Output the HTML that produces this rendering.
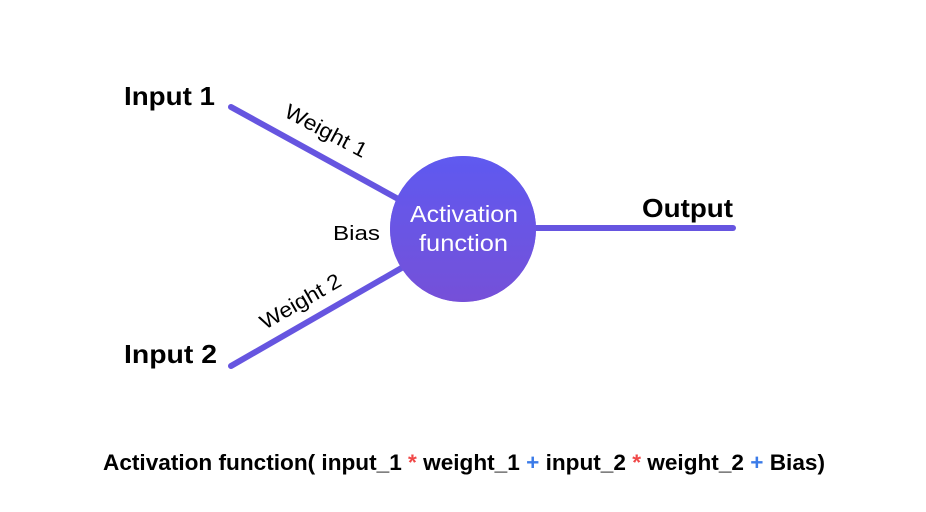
<!DOCTYPE html>
<html><head><style>body{margin:0;background:#fff}</style></head><body>
<svg width="926" height="507" xmlns="http://www.w3.org/2000/svg" font-family="Liberation Sans, sans-serif">
<defs>
<linearGradient id="g" x1="0" y1="0" x2="0" y2="1"><stop offset="0" stop-color="#5f5af0"/><stop offset="1" stop-color="#7550d8"/></linearGradient>
<filter id="s" x="-30%" y="-30%" width="160%" height="160%"><feGaussianBlur in="SourceAlpha" stdDeviation="5"/><feOffset dy="4"/><feComponentTransfer><feFuncA type="linear" slope="0.35"/></feComponentTransfer><feFlood flood-color="#7a55e0"/><feComposite operator="in" in2="SourceAlpha"/><feMerge><feMergeNode/><feMergeNode in="SourceGraphic"/></feMerge></filter>
</defs>
<g stroke="#6655e0" stroke-width="6" stroke-linecap="round">
<line x1="231" y1="107" x2="400" y2="200"/>
<line x1="231" y1="366" x2="405" y2="266"/>
<line x1="530" y1="228" x2="733" y2="228"/>
</g>
<circle cx="463" cy="229" r="73" fill="url(#g)" filter="url(#s)"/>
<text x="410" y="222" fill="#fff" font-size="23" textLength="108" lengthAdjust="spacingAndGlyphs">Activation</text>
<text x="419" y="251" fill="#fff" font-size="23" textLength="89" lengthAdjust="spacingAndGlyphs">function</text>
<text x="124" y="105" font-size="26" font-weight="bold" textLength="91" lengthAdjust="spacingAndGlyphs">Input 1</text>
<text x="124" y="363" font-size="26" font-weight="bold" textLength="93" lengthAdjust="spacingAndGlyphs">Input 2</text>
<text x="642" y="217" font-size="26" font-weight="bold" textLength="91" lengthAdjust="spacingAndGlyphs">Output</text>
<text x="333" y="240" font-size="20" textLength="47" lengthAdjust="spacingAndGlyphs">Bias</text>
<text transform="translate(283,116) rotate(28)" font-size="21" textLength="90" lengthAdjust="spacingAndGlyphs">Weight 1</text>
<text transform="translate(265,330) rotate(-30)" font-size="21" textLength="90" lengthAdjust="spacingAndGlyphs">Weight 2</text>
<text x="103" y="470" font-size="22" font-weight="bold" textLength="722" lengthAdjust="spacingAndGlyphs">Activation function( input_1 <tspan fill="#f04848">*</tspan> weight_1 <tspan fill="#3b7be8">+</tspan> input_2 <tspan fill="#f04848">*</tspan> weight_2 <tspan fill="#3b7be8">+</tspan> Bias)</text>
</svg>
</body></html>
